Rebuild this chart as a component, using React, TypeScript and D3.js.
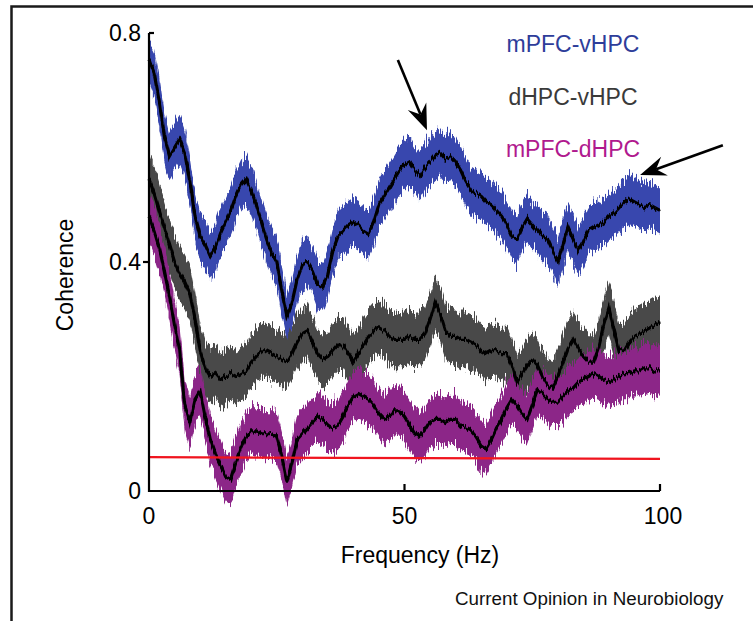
import React from "react";
import * as d3 from "d3";

// frequency grid (Hz)
const freq = d3.range(0, 101, 1);

// mean coherence per pair at 1 Hz
const mpfcVhpc = [
  0.755, 0.73, 0.68, 0.62, 0.585, 0.6, 0.615, 0.59, 0.54, 0.48,
  0.445, 0.43, 0.41, 0.425, 0.45, 0.47, 0.49, 0.515, 0.535, 0.545,
  0.525, 0.5, 0.47, 0.44, 0.415, 0.4, 0.35, 0.305, 0.33, 0.37,
  0.395, 0.4, 0.385, 0.36, 0.355, 0.38, 0.42, 0.445, 0.455, 0.465,
  0.47, 0.465, 0.455, 0.45, 0.47, 0.5, 0.515, 0.53, 0.545, 0.56,
  0.57, 0.575, 0.56, 0.55, 0.565, 0.575, 0.585, 0.59, 0.58, 0.585,
  0.575, 0.56, 0.54, 0.525, 0.52, 0.515, 0.505, 0.5, 0.49, 0.48,
  0.465, 0.445, 0.44, 0.46, 0.475, 0.465, 0.455, 0.445, 0.44, 0.42,
  0.4, 0.43, 0.46, 0.44, 0.42, 0.435, 0.455, 0.46, 0.465, 0.47,
  0.48, 0.485, 0.495, 0.505, 0.51, 0.505, 0.5, 0.495, 0.5, 0.495,
  0.49,
];
const dhpcVhpc = [
  0.545, 0.52, 0.49, 0.46, 0.43, 0.4, 0.38, 0.365, 0.345, 0.3,
  0.245, 0.215, 0.2, 0.205, 0.195, 0.2, 0.205, 0.2, 0.205, 0.21,
  0.225, 0.235, 0.245, 0.245, 0.24, 0.235, 0.23, 0.225, 0.24, 0.26,
  0.275, 0.28, 0.26, 0.24, 0.23, 0.235, 0.245, 0.255, 0.255, 0.24,
  0.225, 0.24, 0.255, 0.27, 0.28, 0.285, 0.28, 0.27, 0.265, 0.265,
  0.265, 0.27, 0.265, 0.265, 0.275, 0.3, 0.33, 0.31, 0.28, 0.27,
  0.27, 0.265, 0.265, 0.26, 0.255, 0.245, 0.24, 0.245, 0.245, 0.24,
  0.24, 0.22, 0.19, 0.205, 0.22, 0.23, 0.22, 0.2, 0.185, 0.18,
  0.2, 0.225, 0.25, 0.265, 0.25, 0.235, 0.225, 0.225, 0.25, 0.29,
  0.32, 0.28, 0.245, 0.245, 0.26, 0.27, 0.275, 0.28, 0.285, 0.29,
  0.295,
];
const mpfcDhpc = [
  0.48, 0.455, 0.425, 0.385, 0.34, 0.29, 0.245, 0.15, 0.12, 0.16,
  0.175, 0.13, 0.09, 0.065, 0.045, 0.025, 0.02, 0.05, 0.075, 0.095,
  0.105, 0.105, 0.1, 0.1, 0.1, 0.095, 0.06, 0.015, 0.05, 0.09,
  0.1, 0.11, 0.12, 0.13, 0.125, 0.115, 0.11, 0.115, 0.13, 0.15,
  0.165, 0.17, 0.165, 0.16, 0.15, 0.135, 0.125, 0.13, 0.14, 0.14,
  0.13, 0.115, 0.1, 0.095, 0.105, 0.12, 0.125, 0.125, 0.12, 0.125,
  0.125, 0.115, 0.11, 0.105, 0.095, 0.08, 0.075, 0.09, 0.11, 0.125,
  0.145, 0.16, 0.15, 0.135, 0.125, 0.15, 0.175, 0.17, 0.16, 0.155,
  0.155, 0.165, 0.175, 0.18, 0.19, 0.195, 0.2, 0.205, 0.2, 0.195,
  0.19, 0.195, 0.2, 0.205, 0.205, 0.21, 0.21, 0.215, 0.215, 0.21,
  0.21,
];

// half width of the shaded error band
const bandVhpc = 0.042;
const bandDv = 0.047;
const bandDhpc = 0.043;

// significance line
const sigFreq = [0, 100];
const sigLevel = [0.059, 0.056];

const xTicks = [0, 50, 100];
const yTicks = [0, 0.4, 0.8];
const yTickLabels = ["0", "0.4", "0.8"];
const legendLabels = ["mPFC-vHPC", "dHPC-vHPC", "mPFC-dHPC"];

// arrows: [tail f, tail coh, tip f, tip coh]
const arrows = [
  [48.7, 0.753, 54.4, 0.63],
  [112.3, 0.604, 96.1, 0.552],
];

const W = 753;
const H = 621;
const font = "'Liberation Sans', Arial, Helvetica, sans-serif";

const App = () => {
  const x = d3.scaleLinear().domain([0, 100]).range([149, 660]);
  const y = d3.scaleLinear().domain([0, 0.8]).range([491, 33]);

  const series = [
    { name: legendLabels[1], vals: dhpcVhpc, hw: bandDv, fill: "#4a4a4a", text: "#3a3a3a" },
    { name: legendLabels[2], vals: mpfcDhpc, hw: bandDhpc, fill: "#8c2888", text: "#b0198e" },
    { name: legendLabels[0], vals: mpfcVhpc, hw: bandVhpc, fill: "#3947ae", text: "#2e3d9a" },
  ];

  const area = (vals: number[], hw: number) =>
    d3.area<number>()
      .x((d, i) => x(freq[i]))
      .y0((d) => y(d - hw))
      .y1((d) => y(Math.min(d + hw, 0.79)))(vals) as string;

  const line = (vals: number[]) =>
    d3.line<number>()
      .x((d, i) => x(freq[i]))
      .y((d) => y(d))(vals) as string;

  const sigLine = d3.line<number>()
    .x((d, i) => x(sigFreq[i]))
    .y((d) => y(d))(sigLevel) as string;

  const arrowHead = (a: number[]) => {
    const x1 = x(a[0]), y1 = y(a[1]), x2 = x(a[2]), y2 = y(a[3]);
    const ang = Math.atan2(y2 - y1, x2 - x1);
    const len = 26, wid = 10, notch = 17;
    const ux = Math.cos(ang), uy = Math.sin(ang);
    const px = -uy, py = ux;
    const bx = x2 - ux * len, by = y2 - uy * len;
    const nx = x2 - ux * notch, ny = y2 - uy * notch;
    return {
      line: `M${x1},${y1}L${nx},${ny}`,
      head: `M${x2},${y2}L${bx + px * wid},${by + py * wid}L${nx},${ny}L${bx - px * wid},${by - py * wid}Z`,
    };
  };

  return (
    <svg width={W} height={H} style={{ position: "absolute", left: 0, top: 0, background: "#fff" }}>
      <defs>
        <filter id="jag" x="-2%" y="-30%" width="104%" height="160%">
          <feTurbulence type="fractalNoise" baseFrequency="0.9 0.05" numOctaves="3" seed="4" result="n" />
          <feColorMatrix in="n" type="matrix" values="1 0 0 0 0  0 0 0 0 0.5  0 0 1 0 0  0 0 0 0 1" result="m" />
          <feDisplacementMap in="SourceGraphic" in2="m" scale="24" xChannelSelector="G" yChannelSelector="R" />
        </filter>
        <filter id="jagLine" x="-2%" y="-30%" width="104%" height="160%">
          <feTurbulence type="fractalNoise" baseFrequency="0.6 0.05" numOctaves="2" seed="9" result="n" />
          <feColorMatrix in="n" type="matrix" values="1 0 0 0 0  0 0 0 0 0.5  0 0 1 0 0  0 0 0 0 1" result="m" />
          <feDisplacementMap in="SourceGraphic" in2="m" scale="9" xChannelSelector="G" yChannelSelector="R" />
        </filter>
      </defs>

      {/* frame */}
      <path d={`M11.5,${H}L11.5,6.5L${W},6.5`} fill="none" stroke="#1a1a1a" strokeWidth={2.5} />

      {/* bands */}
      {series.map((s) => (
        <path key={s.name} d={area(s.vals, s.hw)} fill={s.fill} filter="url(#jag)" />
      ))}
      {/* means */}
      {series.map((s) => (
        <path key={s.name + "m"} d={line(s.vals)} fill="none" stroke="#000" strokeWidth={3.2} filter="url(#jagLine)" />
      ))}

      <path d={sigLine} fill="none" stroke="#f0141e" strokeWidth={2.2} />

      {/* axes */}
      <path
        d={`M${x(0)},${y(0.8)}L${x(0)},${y(0)}L${x(100)},${y(0)}`}
        fill="none" stroke="#000" strokeWidth={2.2}
      />
      {yTicks.slice(1).map((t, i) => (
        <line key={t} x1={x(0)} x2={x(0) + (i === 1 ? 5 : -6)} y1={y(t)} y2={y(t)} stroke="#000" strokeWidth={2.2} />
      ))}
      {xTicks.slice(1).map((t) => (
        <line key={t} x1={x(t)} x2={x(t)} y1={y(0)} y2={y(0) - 7} stroke="#000" strokeWidth={2.2} />
      ))}

      {yTicks.map((t, i) => (
        <text key={t} x={x(0) - 8} y={y(t) + 8} textAnchor="end" fontFamily={font} fontSize={23} fill="#000">
          {yTickLabels[i]}
        </text>
      ))}
      {xTicks.map((t) => (
        <text key={t} x={x(t) + (t === 100 ? 3 : 0)} y={524} textAnchor="middle" fontFamily={font} fontSize={23} fill="#000">
          {t}
        </text>
      ))}

      <text x={420} y={563} textAnchor="middle" fontFamily={font} fontSize={23} fill="#000">
        Frequency (Hz)
      </text>
      <text transform={`translate(73,275) rotate(-90)`} textAnchor="middle" fontFamily={font} fontSize={23} fill="#000">
        Coherence
      </text>

      {/* legend */}
      {[series[2], series[0], series[1]].map((s, i) => (
        <text key={s.name} x={573} y={52 + i * 52.5} textAnchor="middle" fontFamily={font} fontSize={23} fill={s.text}>
          {s.name}
        </text>
      ))}

      {arrows.map((a, i) => {
        const ar = arrowHead(a);
        return (
          <g key={i}>
            <path d={ar.line} stroke="#000" strokeWidth={2.6} fill="none" />
            <path d={ar.head} fill="#000" />
          </g>
        );
      })}

      <text x={455} y={605} fontFamily={font} fontSize={18.8} fill="#111">
        Current Opinion in Neurobiology
      </text>
    </svg>
  );
};

export default App;
